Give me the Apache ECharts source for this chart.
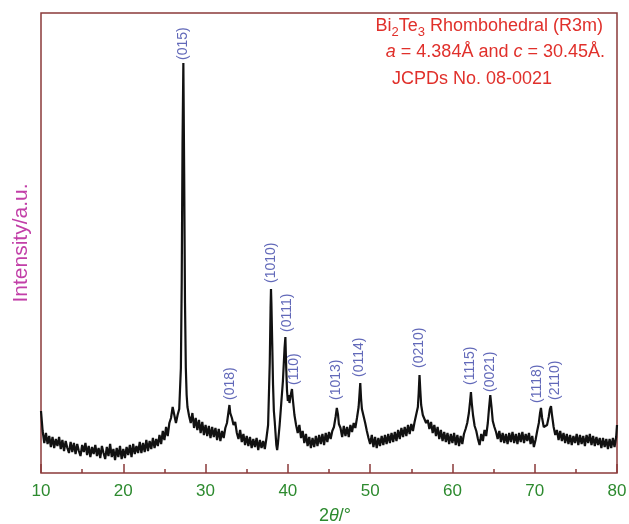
<!DOCTYPE html>
<html>
<head>
<meta charset="utf-8">
<script src="https://cdn.jsdelivr.net/npm/echarts@6/dist/echarts.min.js"></script>
<style>
html, body { margin: 0; padding: 0; background: #fff; }
#xrd { width: 629px; height: 524px; }
</style>
</head>
<body>
<div id="xrd"></div>
<script>
// XRD pattern: [2theta, intensity (a.u.)]
var scan10to20 = [
    [10.0,62],[10.2,42],[10.4,30],[10.6,40],[10.8,29],[11.0,37],[11.2,26],[11.4,36],[11.6,25],[11.8,34],[12.0,27],
    [12.2,36],[12.4,24],[12.6,33],[12.8,22],[13.0,32],[13.2,25],[13.4,20],[13.6,31],[13.8,21],[14.0,30],
    [14.2,19],[14.4,29],[14.6,22],[14.8,17],[15.0,28],[15.2,21],[15.4,30],[15.6,18],[15.8,27],[16.0,16],
    [16.2,26],[16.4,19],[16.6,28],[16.8,17],[17.0,25],[17.2,15],[17.4,27],[17.6,20],[17.8,14],[18.0,26],
    [18.2,17],[18.4,29],[18.6,16],[18.8,24],[19.0,13],[19.2,25],[19.4,16],[19.6,27],[19.8,14],[20.0,24]
];
var scan20to30 = [
    [20.2,15],[20.4,26],[20.6,18],[20.8,28],[21.0,16],[21.2,29],[21.4,19],[21.6,27],[21.8,20],[22.0,31],
    [22.2,20],[22.4,30],[22.6,21],[22.8,33],[23.0,22],[23.2,32],[23.4,24],[23.6,35],[23.8,25],[24.0,34],
    [24.2,27],[24.4,38],[24.6,29],[24.8,42],[25.0,33],[25.2,46],[25.4,37],[25.6,50],[25.8,55],[26.0,66],
    [26.2,58],[26.4,50],[26.6,58],[26.8,64],[27.0,105],[27.1,190],[27.2,330],[27.3,410],[27.4,300],[27.5,170],
    [27.6,105],[27.7,78],[27.8,66],[28.0,57],[28.2,50],[28.4,60],[28.6,45],[28.8,55],[29.0,43],[29.2,53],
    [29.4,40],[29.6,51],[29.8,38],[30.0,48]
];
var scan30to40 = [
    [30.2,37],[30.4,47],[30.6,35],[30.8,46],[31.0,36],[31.2,45],[31.4,33],[31.6,44],[31.8,32],[32.0,42],
    [32.2,35],[32.4,45],[32.6,50],[32.8,62],[32.9,68],[33.0,60],[33.2,55],[33.4,48],[33.6,51],[33.8,40],[34.0,34],
    [34.2,43],[34.4,31],[34.6,39],[34.8,28],[35.0,37],[35.2,27],[35.4,36],[35.6,25],[35.8,34],[36.0,26],
    [36.2,35],[36.4,23],[36.6,33],[36.8,25],[37.0,32],[37.2,24],[37.4,35],[37.6,48],[37.8,110],[37.9,165],
    [37.95,184],[38.0,170],[38.1,130],[38.2,88],[38.3,62],[38.4,52],[38.5,40],[38.6,28],[38.7,23],[38.8,30],
    [39.0,48],[39.2,70],[39.4,92],[39.6,125],[39.7,136],[39.8,105],[39.9,82],[40.0,72]
];
var scan40to50 = [
    [40.1,78],[40.2,70],[40.3,76],[40.4,80],[40.5,84],[40.6,74],[40.7,66],[40.8,58],[41.0,48],
    [41.2,40],[41.4,48],[41.6,35],[41.8,42],[42.0,30],[42.2,39],[42.4,27],[42.6,36],[42.8,25],[43.0,35],
    [43.2,26],[43.4,37],[43.6,27],[43.8,38],[44.0,29],[44.2,39],[44.4,28],[44.6,40],[44.8,31],[45.0,41],
    [45.2,34],[45.4,42],[45.6,46],[45.8,56],[45.95,65],[46.1,58],[46.2,49],[46.4,45],[46.6,36],[46.8,47],[47.0,37],
    [47.2,46],[47.4,36],[47.6,48],[47.8,41],[48.0,50],[48.2,45],[48.4,55],[48.6,66],[48.7,78],[48.8,90],
    [48.9,74],[49.0,64],[49.2,57],[49.4,50],[49.6,42],[49.8,35],[50.0,29]
];
var scan50to60 = [
    [50.2,38],[50.4,26],[50.6,36],[50.8,25],[51.0,35],[51.2,27],[51.4,37],[51.6,28],[51.8,38],[52.0,29],
    [52.2,39],[52.4,30],[52.6,40],[52.8,31],[53.0,41],[53.2,32],[53.4,43],[53.6,34],[53.8,45],[54.0,36],
    [54.2,46],[54.4,37],[54.6,48],[54.8,39],[55.0,49],[55.2,42],[55.4,51],[55.6,53],[55.8,66],[55.9,80],
    [56.0,98],[56.1,82],[56.2,68],[56.4,58],[56.6,60],[56.8,50],[57.0,53],
    [57.2,44],[57.4,51],[57.6,40],[57.8,48],[58.0,37],[58.2,46],[58.4,34],[58.6,43],[58.8,32],[59.0,41],
    [59.2,31],[59.4,40],[59.6,29],[59.8,39],[60.0,30]
];
var scan60to70 = [
    [60.2,40],[60.4,28],[60.6,38],[60.8,27],[61.0,37],[61.2,29],[61.4,39],[61.6,44],[61.8,50],[62.0,60],
    [62.15,72],[62.25,81],[62.35,70],[62.5,58],[62.7,47],[62.9,42],[63.1,34],[63.3,28],[63.5,39],
    [63.7,32],[63.9,43],[64.1,37],[64.3,50],[64.45,65],[64.6,78],[64.75,66],[64.9,52],[65.1,46],[65.3,41],
    [65.5,34],[65.7,42],[65.9,31],[66.1,40],[66.3,30],[66.5,39],[66.7,29],[66.9,40],[67.1,31],[67.3,41],
    [67.5,30],[67.7,39],[67.9,29],[68.1,40],[68.3,31],[68.5,41],[68.7,30],[68.9,39],[69.1,32],[69.3,40],
    [69.5,29],[69.7,37],[69.9,26]
];
var scan70to80 = [
    [70.1,33],[70.3,42],[70.5,50],[70.65,60],[70.76,65],[70.9,55],[71.1,46],[71.3,44],[71.5,48],[71.7,56],
    [71.85,64],[71.98,67],[72.1,58],[72.3,46],[72.5,38],[72.7,43],[72.9,33],[73.1,42],[73.3,32],[73.5,40],
    [73.7,30],[73.9,39],[74.1,29],[74.3,38],[74.5,28],[74.7,37],[74.9,30],[75.1,39],[75.3,28],[75.5,38],
    [75.7,29],[75.9,37],[76.1,27],[76.3,38],[76.5,30],[76.7,39],[76.9,28],[77.1,37],[77.3,27],[77.5,36],
    [77.7,28],[77.9,35],[78.1,25],[78.3,35],[78.5,26],[78.7,34],[78.9,24],[79.1,34],[79.3,25],[79.5,35],
    [79.7,26],[79.9,36],[80.0,48]
];

// Miller index labels and where their foot sits
var peakHkl   = ['(015)', '(018)', '(1010)', '(0111)', '(110)', '(1013)', '(0114)', '(0210)', '(1115)', '(0021)', '(1118)', '(2110)'];
var peakTheta = [27.29, 33.0, 37.95, 39.89, 40.78, 45.89, 48.68, 55.97, 62.17, 64.6, 70.31, 72.5];
var peakFoot  = [413, 73, 190, 141, 88, 73, 96, 105, 88, 81, 70, 73];

var xTicks = [10, 80, 10];   // min, max, step

var chart = echarts.init(document.getElementById('xrd'));

var pattern = [].concat(scan10to20, scan20to30, scan30to40, scan40to50, scan50to60, scan60to70, scan70to80);
var labelData = peakHkl.map(function (h, i) {
    return { name: h, value: [peakTheta[i], peakFoot[i]] };
});

var option = {
    animation: false,
    backgroundColor: '#fff',
    grid: {
        left: 41, right: 12, top: 13, bottom: 51,
        outerBoundsMode: 'none',
        containLabel: false,
        show: true,
        borderColor: '#8b3a3a',
        borderWidth: 1.5
    },
    xAxis: {
        type: 'value',
        min: xTicks[0], max: xTicks[1], interval: xTicks[2],
        axisLine: { show: false },
        axisTick: { show: true, inside: true, length: 9, lineStyle: { color: '#8b3a3a', width: 1.5 } },
        minorTick: { show: true, splitNumber: 2, length: 4, lineStyle: { color: '#8b3a3a', width: 1.5 } },
        splitLine: { show: false },
        axisLabel: { color: '#2d8a2f', fontSize: 17, fontFamily: 'Liberation Sans', margin: 10 },
        name: '{n|2}{i|θ}{n|/°}',
        nameLocation: 'middle',
        nameGap: 34,
        nameTextStyle: {
            padding: [0, 0, 0, 12],
            rich: {
                n: { color: '#2d8a2f', fontSize: 18, fontFamily: 'Liberation Sans' },
                i: { color: '#2d8a2f', fontSize: 18, fontFamily: 'Liberation Sans', fontStyle: 'italic' }
            }
        }
    },
    yAxis: {
        type: 'value',
        min: 0, max: 460,
        axisLine: { show: false },
        axisTick: { show: false },
        axisLabel: { show: false },
        splitLine: { show: false },
        name: 'Intensity/a.u.',
        nameLocation: 'middle',
        nameGap: 9,
        nameTextStyle: { color: '#c23fa8', fontSize: 21, fontFamily: 'Liberation Sans' }
    },
    graphic: [
        {
            type: 'text', right: 26, top: 17,
            style: {
                text: '{a|Bi}{s|2}{a|Te}{s|3}{a| Rhombohedral (R3m)}',
                rich: {
                    a: { fill: '#e0302b', fontSize: 18, fontFamily: 'Liberation Sans' },
                    s: { fill: '#e0302b', fontSize: 13, fontFamily: 'Liberation Sans', padding: [12, 0, 0, 0] }
                }
            }
        },
        {
            type: 'text', right: 24, top: 43,
            style: {
                text: '{i|a}{a| = 4.384Å and }{i|c}{a| = 30.45Å.}',
                rich: {
                    a: { fill: '#e0302b', fontSize: 18, fontFamily: 'Liberation Sans' },
                    i: { fill: '#e0302b', fontSize: 18, fontFamily: 'Liberation Sans', fontStyle: 'italic' }
                }
            }
        },
        {
            type: 'text', left: 392, top: 70,
            style: { text: 'JCPDs No. 08-0021', fill: '#e0302b', fontSize: 18, fontFamily: 'Liberation Sans' }
        }
    ],
    series: [
        {
            type: 'line',
            data: pattern,
            showSymbol: false,
            lineStyle: { color: '#111', width: 2.2 },
            clip: true,
            z: 2
        },
        {
            type: 'scatter',
            data: labelData,
            symbolSize: 0,
            label: {
                show: true,
                position: 'top',
                distance: 0,
                rotate: 90,
                align: 'left',
                verticalAlign: 'middle',
                formatter: '{b}',
                color: '#3b43a8',
                fontSize: 14,
                fontFamily: 'Liberation Sans'
            },
            z: 3
        }
    ]
};

chart.setOption(option);
</script>
</body>
</html>
